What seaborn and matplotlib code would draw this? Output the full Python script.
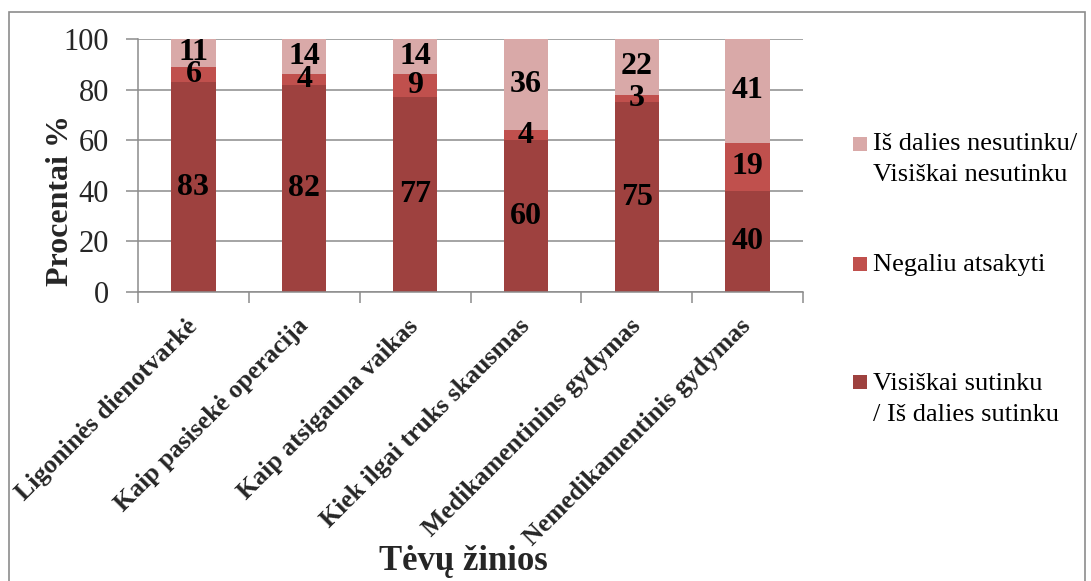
import matplotlib
matplotlib.use("Agg")
import matplotlib.pyplot as plt
from matplotlib.patches import Rectangle
import numpy as np
import pandas as pd
import seaborn as sns

# Survey answers per knowledge topic (percent)
categories = [
    "Ligoninės dienotvarkė",
    "Kaip pasisekė operacija",
    "Kaip atsigauna vaikas",
    "Kiek ilgai truks skausmas",
    "Medikamentinins gydymas",
    "Nemedikamentinis gydymas",
]
agree = [83, 82, 77, 60, 75, 40]
cannot_answer = [6, 4, 9, 4, 3, 19]
disagree = [11, 14, 14, 36, 22, 41]

series_labels = [
    ["Visiškai sutinku", "/ Iš dalies sutinku"],
    ["Negaliu atsakyti"],
    ["Iš dalies nesutinku/", "Visiškai nesutinku"],
]
colors = ["#9E413F", "#C0504D", "#D9A9A8"]
y_ticks = [0, 20, 40, 60, 80, 100]

sns.set_theme(style="white")
plt.rcParams["font.family"] = ["Liberation Serif", "DejaVu Serif"]

W, H = 1091, 581
fig = plt.figure(figsize=(W / 100, H / 100), dpi=100)
ax = fig.add_axes([138 / W, 1 - 292 / H, (803 - 138) / W, (292 - 39) / H])

df = pd.DataFrame({
    "cat": categories,
    "agree": agree,
    "cannot": cannot_answer,
    "disagree": disagree,
})
df["top1"] = df["agree"]
df["top2"] = df["agree"] + df["cannot"]
df["top3"] = df["top2"] + df["disagree"]

# Stacked bars: draw cumulative totals from the tallest down
for col, color in zip(["top3", "top2", "top1"], colors[::-1]):
    sns.barplot(data=df, x="cat", y=col, color=color, saturation=1,
                width=0.4, linewidth=0, ax=ax, zorder=2)

# Segment value labels
for i in range(len(categories)):
    bottom = 0
    for vals in (agree, cannot_answer, disagree):
        v = vals[i]
        ax.text(i, bottom + v / 2, str(v), ha="center", va="center",
                fontsize=23, fontweight="bold", color="black", zorder=3)
        bottom += v

grid_col = "#8C8C8C"
ax.set_ylim(0, 100)
ax.set_xlim(-0.5, len(categories) - 0.5)
ax.set_yticks(y_ticks)
ax.set_yticklabels([str(t) for t in y_ticks], fontsize=22)
ax.yaxis.grid(True, color=grid_col, linewidth=1.1)
ax.set_axisbelow(True)
ax.tick_params(axis="y", length=9, width=1.1, color=grid_col, pad=12, left=True)

ax.set_xticks(range(len(categories)))
ax.set_xticklabels(categories, rotation=45, ha="right", va="center",
                   rotation_mode="anchor", fontsize=18.5, fontweight="bold")
ax.set_xticks(np.arange(-0.5, len(categories)), minor=True)
ax.tick_params(axis="x", which="major", length=0, pad=22)
ax.tick_params(axis="x", which="minor", length=8, width=1.1, color=grid_col,
               bottom=True)

for side in ("top", "right"):
    ax.spines[side].set_visible(False)
for side in ("left", "bottom"):
    ax.spines[side].set_color(grid_col)
    ax.spines[side].set_linewidth(1.1)

ax.set_ylabel("Procentai %", fontsize=23, fontweight="bold", va="center")
ax.yaxis.set_label_coords((61 - 138) / 665, (292 - 201) / 253)
ax.set_xlabel("Tėvų žinios", fontsize=25, fontweight="bold", va="center")
ax.xaxis.set_label_coords((463 - 138) / 665, (292 - 562) / 253)

# Legend entries on the right: (square centre, first baseline, series index)
legend_rows = [(143.5, 150, 2), (263.5, 271, 1), (381.5, 390, 0)]
line_step = 31
for sq_y, base_y, idx in legend_rows:
    fig.add_artist(Rectangle((853 / W, 1 - (sq_y + 7) / H), 14 / W, 14 / H,
                             transform=fig.transFigure, facecolor=colors[idx],
                             edgecolor="none"))
    for k, line in enumerate(series_labels[idx]):
        fig.text(873 / W, 1 - (base_y + k * line_step) / H, line, ha="left",
                 va="baseline", fontsize=19, color="black")

# Outer frame
fig.add_artist(Rectangle((9 / W, -0.05), (1085 - 9) / W, 1.05 - 12 / H,
                         transform=fig.transFigure, fill=False,
                         edgecolor=grid_col, linewidth=1.2))

fig.savefig("out.png", dpi=100, facecolor="white")
